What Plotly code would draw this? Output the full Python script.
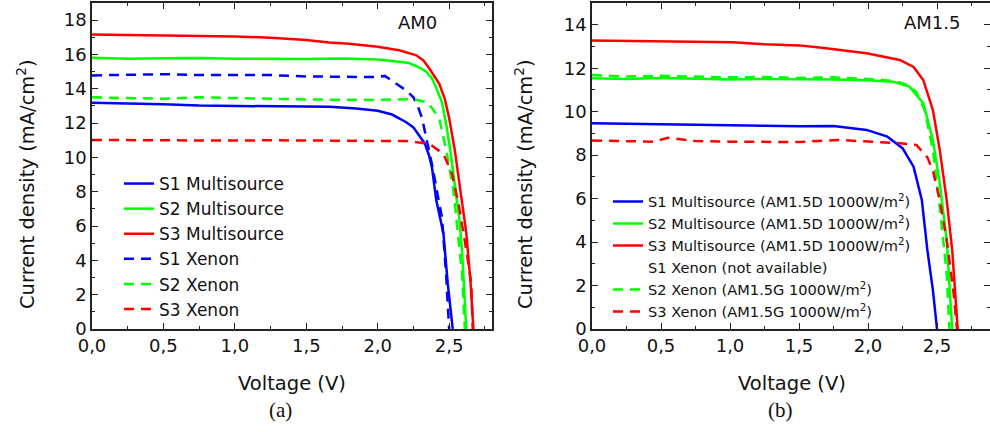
import plotly.graph_objects as go

W, H = 990, 432

# ---------- Panel (a): AM0 ----------
a_s1m_v = [0, 0.25, 0.5, 0.75, 1.0, 1.25, 1.5, 1.66, 1.85, 2.0, 2.1, 2.2, 2.25, 2.3, 2.33, 2.36, 2.38, 2.41, 2.44, 2.46, 2.49, 2.51, 2.525]
a_s1m_j = [13.18, 13.15, 13.1, 13.02, 13.0, 13.02, 12.98, 12.95, 12.85, 12.72, 12.5, 12.05, 11.75, 11.2, 10.8, 10.1, 9.4, 7.5, 6.3, 5.57, 2.67, 1.2, 0]

a_s2m_v = [0, 0.25, 0.5, 0.75, 1.0, 1.25, 1.5, 1.75, 2.0, 2.1, 2.22, 2.3, 2.34, 2.38, 2.41, 2.45, 2.48, 2.51, 2.54, 2.57, 2.59, 2.61, 2.62]
a_s2m_j = [15.81, 15.75, 15.78, 15.8, 15.75, 15.73, 15.74, 15.76, 15.7, 15.62, 15.5, 15.2, 15.0, 14.6, 14.05, 13.2, 11.9, 10.3, 8.5, 6.5, 4.6, 1.7, 0]

a_s3m_v = [0, 0.25, 0.5, 0.75, 1.0, 1.25, 1.5, 1.66, 1.8, 2.0, 2.15, 2.27, 2.32, 2.36, 2.43, 2.47, 2.5, 2.54, 2.57, 2.62, 2.65, 2.67]
a_s3m_j = [17.17, 17.15, 17.12, 17.08, 17.05, 16.98, 16.85, 16.7, 16.62, 16.45, 16.25, 15.95, 15.65, 15.2, 14.3, 13.4, 12.3, 10.4, 8.65, 5.6, 2.7, 0]

a_s1x_v = [0, 0.25, 0.5, 0.75, 1.0, 1.25, 1.5, 1.75, 2.0, 2.05, 2.13, 2.2, 2.25, 2.28, 2.31, 2.35, 2.385, 2.42, 2.45, 2.48, 2.5]
a_s1x_j = [14.78, 14.8, 14.85, 14.8, 14.82, 14.8, 14.72, 14.72, 14.68, 14.75, 14.3, 13.9, 13.5, 13.0, 12.3, 10.8, 9.4, 7.8, 6.5, 3.0, 0]

a_s2x_v = [0, 0.25, 0.5, 0.75, 1.0, 1.25, 1.5, 1.75, 2.0, 2.25, 2.35, 2.43, 2.48, 2.53, 2.56, 2.59, 2.61]
a_s2x_j = [13.5, 13.45, 13.42, 13.5, 13.45, 13.4, 13.38, 13.36, 13.35, 13.4, 13.2, 12.3, 10.4, 8.07, 5.57, 3.25, 0]

a_s3x_v = [0, 0.25, 0.5, 0.75, 1.0, 1.25, 1.5, 1.75, 2.0, 2.2, 2.36, 2.46, 2.52, 2.57, 2.62, 2.655, 2.665]
a_s3x_j = [11.02, 11.0, 11.02, 11.0, 10.98, 11.0, 10.98, 10.98, 10.98, 10.95, 10.8, 10.2, 9.06, 7.1, 4.6, 2.67, 0]

# ---------- Panel (b): AM1.5 ----------
b_s1m_v = [0, 0.25, 0.5, 0.75, 1.02, 1.25, 1.5, 1.75, 1.99, 2.14, 2.25, 2.33, 2.39, 2.43, 2.47, 2.5]
b_s1m_j = [9.47, 9.44, 9.42, 9.38, 9.37, 9.35, 9.33, 9.34, 9.16, 8.85, 8.32, 7.47, 5.94, 3.64, 1.8, 0]

b_s2m_v = [0, 0.25, 0.5, 0.75, 1.0, 1.25, 1.5, 1.75, 2.0, 2.18, 2.3, 2.4, 2.47, 2.52, 2.57, 2.59, 2.61]
b_s2m_j = [11.54, 11.5, 11.55, 11.5, 11.48, 11.5, 11.5, 11.48, 11.45, 11.38, 11.15, 10.4, 8.7, 6.7, 4.1, 2.1, 0]

b_s3m_v = [0, 0.25, 0.5, 0.75, 1.02, 1.25, 1.5, 1.65, 1.99, 2.23, 2.33, 2.4, 2.47, 2.52, 2.57, 2.61, 2.63, 2.65]
b_s3m_j = [13.27, 13.25, 13.23, 13.2, 13.19, 13.1, 13.05, 12.95, 12.69, 12.38, 12.06, 11.46, 10.08, 8.24, 5.94, 3.64, 1.66, 0]

b_s2x_v = [0, 0.25, 0.5, 0.75, 1.0, 1.25, 1.5, 1.75, 2.0, 2.2, 2.3, 2.35, 2.41, 2.47, 2.52, 2.57, 2.59]
b_s2x_j = [11.69, 11.62, 11.65, 11.6, 11.58, 11.6, 11.55, 11.58, 11.5, 11.4, 11.2, 10.9, 10.08, 8.24, 5.6, 2.56, 0]

b_s3x_v = [0, 0.25, 0.45, 0.55, 0.75, 1.0, 1.25, 1.5, 1.78, 2.0, 2.23, 2.35, 2.43, 2.47, 2.52, 2.57, 2.62, 2.645]
b_s3x_j = [8.67, 8.65, 8.62, 8.8, 8.65, 8.62, 8.6, 8.6, 8.7, 8.62, 8.55, 8.47, 7.9, 7.3, 5.94, 4.1, 1.66, 0]

x_ticks = [0, 0.5, 1.0, 1.5, 2.0, 2.5]
a_y_ticks = [0, 2, 4, 6, 8, 10, 12, 14, 16, 18]
b_y_ticks = [0, 2, 4, 6, 8, 10, 12, 14]

BLUE, GREEN, RED = "#0000FF", "#00FF00", "#FF0000"
FONT = "DejaVu Sans, Arial, sans-serif"
LW = 2.5
DASH = "10px,7px"

fig = go.Figure()

def add(v, j, name, color, dash, xa, ya, legend):
    fig.add_trace(go.Scatter(x=v, y=j, mode="lines", name=name,
                             line=dict(color=color, width=LW, dash=dash),
                             xaxis=xa, yaxis=ya, legend=legend))

add(a_s1m_v, a_s1m_j, "S1 Multisource", BLUE, "solid", "x", "y", "legend")
add(a_s2m_v, a_s2m_j, "S2 Multisource", GREEN, "solid", "x", "y", "legend")
add(a_s3m_v, a_s3m_j, "S3 Multisource", RED, "solid", "x", "y", "legend")
add(a_s1x_v, a_s1x_j, "S1 Xenon", BLUE, DASH, "x", "y", "legend")
add(a_s2x_v, a_s2x_j, "S2 Xenon", GREEN, DASH, "x", "y", "legend")
add(a_s3x_v, a_s3x_j, "S3 Xenon", RED, DASH, "x", "y", "legend")

add(b_s1m_v, b_s1m_j, "S1 Multisource (AM1.5D 1000W/m<sup>2</sup>)", BLUE, "solid", "x2", "y2", "legend2")
add(b_s2m_v, b_s2m_j, "S2 Multisource (AM1.5D 1000W/m<sup>2</sup>)", GREEN, "solid", "x2", "y2", "legend2")
add(b_s3m_v, b_s3m_j, "S3 Multisource (AM1.5D 1000W/m<sup>2</sup>)", RED, "solid", "x2", "y2", "legend2")
fig.add_trace(go.Scatter(x=[None], y=[None], mode="lines", name="S1 Xenon (not available)",
                         line=dict(color="rgba(0,0,0,0)", width=LW),
                         xaxis="x2", yaxis="y2", legend="legend2"))
add(b_s2x_v, b_s2x_j, "S2 Xenon (AM1.5G 1000W/m<sup>2</sup>)", GREEN, DASH, "x2", "y2", "legend2")
add(b_s3x_v, b_s3x_j, "S3 Xenon (AM1.5G 1000W/m<sup>2</sup>)", RED, DASH, "x2", "y2", "legend2")

def px(x):
    return x / W

def py(y):
    return 1 - y / H

AX = dict(showline=True, linecolor="#222", linewidth=1.5, mirror="allticks",
          ticks="inside", ticklen=6, tickwidth=1.3, tickcolor="#222",
          showgrid=False, zeroline=False, automargin=False,
          tickfont=dict(family=FONT, size=18, color="#111"))
MINOR = dict(ticks="inside", ticklen=3.5, tickwidth=1.2, tickcolor="#222")

fig.update_layout(
    width=W, height=H, margin=dict(l=0, r=0, t=0, b=0, autoexpand=False),
    paper_bgcolor="white", plot_bgcolor="white",
    separators=",.",
    showlegend=True,
    xaxis=dict(domain=[px(92), px(492)], range=[0, 2.8], tickvals=x_ticks, tickformat=".1f",
               minor=dict(dtick=0.25, **MINOR), anchor="y", **AX),
    yaxis=dict(domain=[py(329), py(3)], range=[0, 19], tickvals=a_y_ticks,
               minor=dict(dtick=1, **MINOR), anchor="x", **AX),
    xaxis2=dict(domain=[px(592), 1.0], range=[0, 2.884], tickvals=x_ticks, tickformat=".1f",
                minor=dict(dtick=0.25, **MINOR), anchor="y2", **AX),
    yaxis2=dict(domain=[py(329), py(3)], range=[0, 15], tickvals=b_y_ticks,
                minor=dict(dtick=1, **MINOR), anchor="x2", **AX),
    legend=dict(x=px(119), y=py(166), xanchor="left", yanchor="top",
                font=dict(family=FONT, size=17, color="#111"),
                bgcolor="rgba(0,0,0,0)", borderwidth=0, tracegroupgap=0),
    legend2=dict(x=px(608), y=py(185.5), xanchor="left", yanchor="top",
                 font=dict(family=FONT, size=14.6, color="#111"),
                 bgcolor="rgba(0,0,0,0)", borderwidth=0, tracegroupgap=0),
)

ann = []
def note(x, y, text, size, family=FONT, angle=0):
    ann.append(dict(x=px(x), y=py(y), text=text, showarrow=False, xref="paper", yref="paper",
                    xanchor="center", yanchor="middle", textangle=angle,
                    font=dict(family=family, size=size, color="#111")))

note(417, 22, "AM0", 18)
note(932, 22, "AM1.5", 18)
note(292, 383, "Voltage (V)", 19.5)
note(792, 383, "Voltage (V)", 19.5)
note(280, 410, "(a)", 21, "Liberation Serif, Times New Roman, serif")
note(780, 410, "(b)", 21, "Liberation Serif, Times New Roman, serif")
note(26, 184, "Current density (mA/cm<sup>2</sup>)", 19.5, angle=-90)
note(524, 184, "Current density (mA/cm<sup>2</sup>)", 19.5, angle=-90)
fig.update_layout(annotations=ann)

fig.write_html("out.html")
